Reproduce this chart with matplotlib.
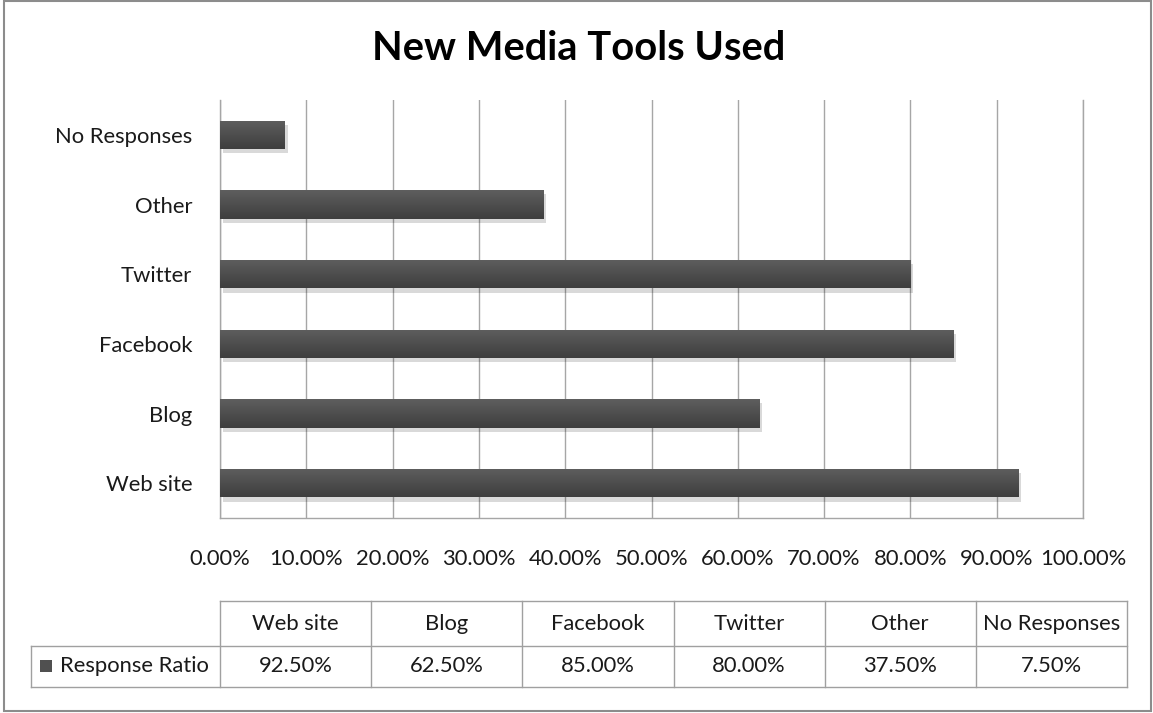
import matplotlib
matplotlib.use("Agg")
import matplotlib.pyplot as plt
import numpy as np
from matplotlib.patches import Rectangle
from matplotlib.lines import Line2D
import matplotlib.patheffects as pe

categories = ["Web site", "Blog", "Facebook", "Twitter", "Other", "No Responses"]
values = [92.5, 62.5, 85.0, 80.0, 37.5, 7.5]
xticks = [0, 10, 20, 30, 40, 50, 60, 70, 80, 90, 100]
series_name = "Response Ratio"
title = "New Media Tools Used"

FONT = "Lato"
plt.rcParams["font.family"] = [FONT, "DejaVu Sans"]
FS = 15.8
TXT = "#1a1a1a"

W, H = 1153, 713
fig = plt.figure(figsize=(W / 100, H / 100), dpi=100)

# plot area in pixels
L, R, T, B = 220, 1083, 100, 518
ax = fig.add_axes([L / W, 1 - B / H, (R - L) / W, (B - T) / H])

GRID = "#a6a6a6"
BAR = "#505050"
y = np.arange(len(categories))
bars = ax.barh(y, values, height=0.41, color=BAR, edgecolor="none", zorder=3)
cmap = matplotlib.colors.LinearSegmentedColormap.from_list("g", ["#3e3e3e", "#5e5e5e"])
for b in bars:
    b.set_path_effects([pe.SimplePatchShadow(offset=(2, -3), alpha=0.15, shadow_rgbFace="#000000"), pe.Normal()])
    grad = np.linspace(0, 1, 50).reshape(-1, 1)
    x0, y0 = b.get_x(), b.get_y()
    w, h = b.get_width(), b.get_height()
    im = ax.imshow(grad, extent=[x0, x0 + w, y0, y0 + h], aspect="auto",
                   cmap=cmap, origin="lower", zorder=4)
    im.set_clip_path(b)

ax.set_xlim(0, 100)
ax.set_ylim(-0.5, len(categories) - 0.5)
ax.set_xticks(xticks)
ax.set_xticklabels([f"{t:.2f}%" for t in xticks], fontsize=FS, color=TXT)
ax.set_yticks(y)
ax.set_yticklabels(categories, fontsize=FS, color=TXT)
ax.tick_params(axis="x", length=0, pad=22)
ax.tick_params(axis="y", length=0, pad=20)
ax.grid(axis="x", color=GRID, linewidth=1, zorder=0)
ax.set_axisbelow(True)
for s in ["left", "bottom", "right"]:
    ax.spines[s].set_color(GRID)
    ax.spines[s].set_linewidth(1)
ax.spines["top"].set_visible(False)
ax.set_aspect("auto")

# overlay for title, table, border
ov = fig.add_axes([0, 0, 1, 1], zorder=-1)
ov.set_xlim(0, W)
ov.set_ylim(H, 0)
ov.axis("off")

ov.text(579, 48, title, ha="center", va="center", fontsize=28.7, fontweight="bold", color="black")

# outer border
ov.add_patch(Rectangle((4, 1), 1147, 710, fill=False, edgecolor="#8c8c8c", linewidth=1.5))

# data table
tL, tR = 220, 1127
tTop, tMid, tBot = 601, 646, 687
legL = 31
colw = (tR - tL) / len(categories)
tc = "#a0a0a0"
ov.add_line(Line2D([tL, tR], [tTop, tTop], color=tc, lw=1))
ov.add_line(Line2D([legL, tR], [tMid, tMid], color=tc, lw=1))
ov.add_line(Line2D([legL, tR], [tBot, tBot], color=tc, lw=1))
ov.add_line(Line2D([legL, legL], [tMid, tBot], color=tc, lw=1))
for i in range(len(categories) + 1):
    xx = tL + i * colw
    ov.add_line(Line2D([xx, xx], [tTop, tBot], color=tc, lw=1))
for i, (c, v) in enumerate(zip(categories, values)):
    cx = tL + (i + 0.5) * colw
    ov.text(cx, (tTop + tMid) / 2, c, ha="center", va="center", fontsize=FS, color=TXT)
    ov.text(cx, (tMid + tBot) / 2, f"{v:.2f}%", ha="center", va="center", fontsize=FS, color=TXT)
ov.add_patch(Rectangle((40, 660), 12, 12, facecolor=BAR, edgecolor="none"))
ov.text(60, (tMid + tBot) / 2, series_name, ha="left", va="center", fontsize=FS, color=TXT)

fig.savefig("out.png", dpi=100, facecolor="white")
